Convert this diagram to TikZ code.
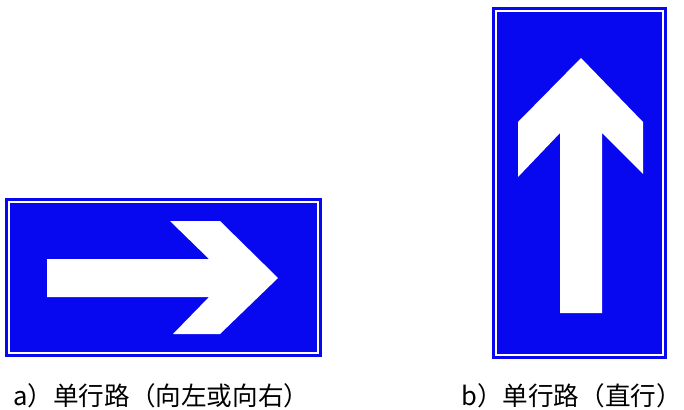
\documentclass[tikz,border=0pt]{standalone}
\usepackage{fontspec}
\setmainfont{Noto Sans CJK SC}
\definecolor{signblue}{RGB}{8,8,240}
\tikzset{
  signplate/.style={fill=signblue},
  signrim/.style={draw=white, line width=2.4pt},
  arrowshape/.style={fill=white},
  caption/.style={anchor=base west, inner sep=0pt, font=\fontsize{25.6}{30}\selectfont}
}
\begin{document}
\begin{tikzpicture}[x=1pt,y=-1pt]
\useasboundingbox (0,0) rectangle (684,409);
% left sign
\fill[signplate] (5,198) rectangle (322,357);
\draw[signrim] (9.2,202.2) rectangle (317.8,352.8);
\fill[arrowshape] (47,259) -- (209,259) -- (170,221) -- (220,221) -- (278,278)
  -- (220,334) -- (173,334) -- (209,297) -- (47,297) -- cycle;
% right sign
\fill[signplate] (492,7) rectangle (667,359);
\draw[signrim] (496.2,11.2) rectangle (662.8,354.8);
\fill[arrowshape] (581,58) -- (643,122) -- (643,174) -- (602,133) -- (602,313)
  -- (560,313) -- (560,133) -- (518,177) -- (518,122) -- cycle;
% captions
\node[caption] (capa) at (13,405) {a）单行路（向左或向右）};
\node[caption] (capb) at (461,405) {b）单行路（直行）};
\end{tikzpicture}
\end{document}
